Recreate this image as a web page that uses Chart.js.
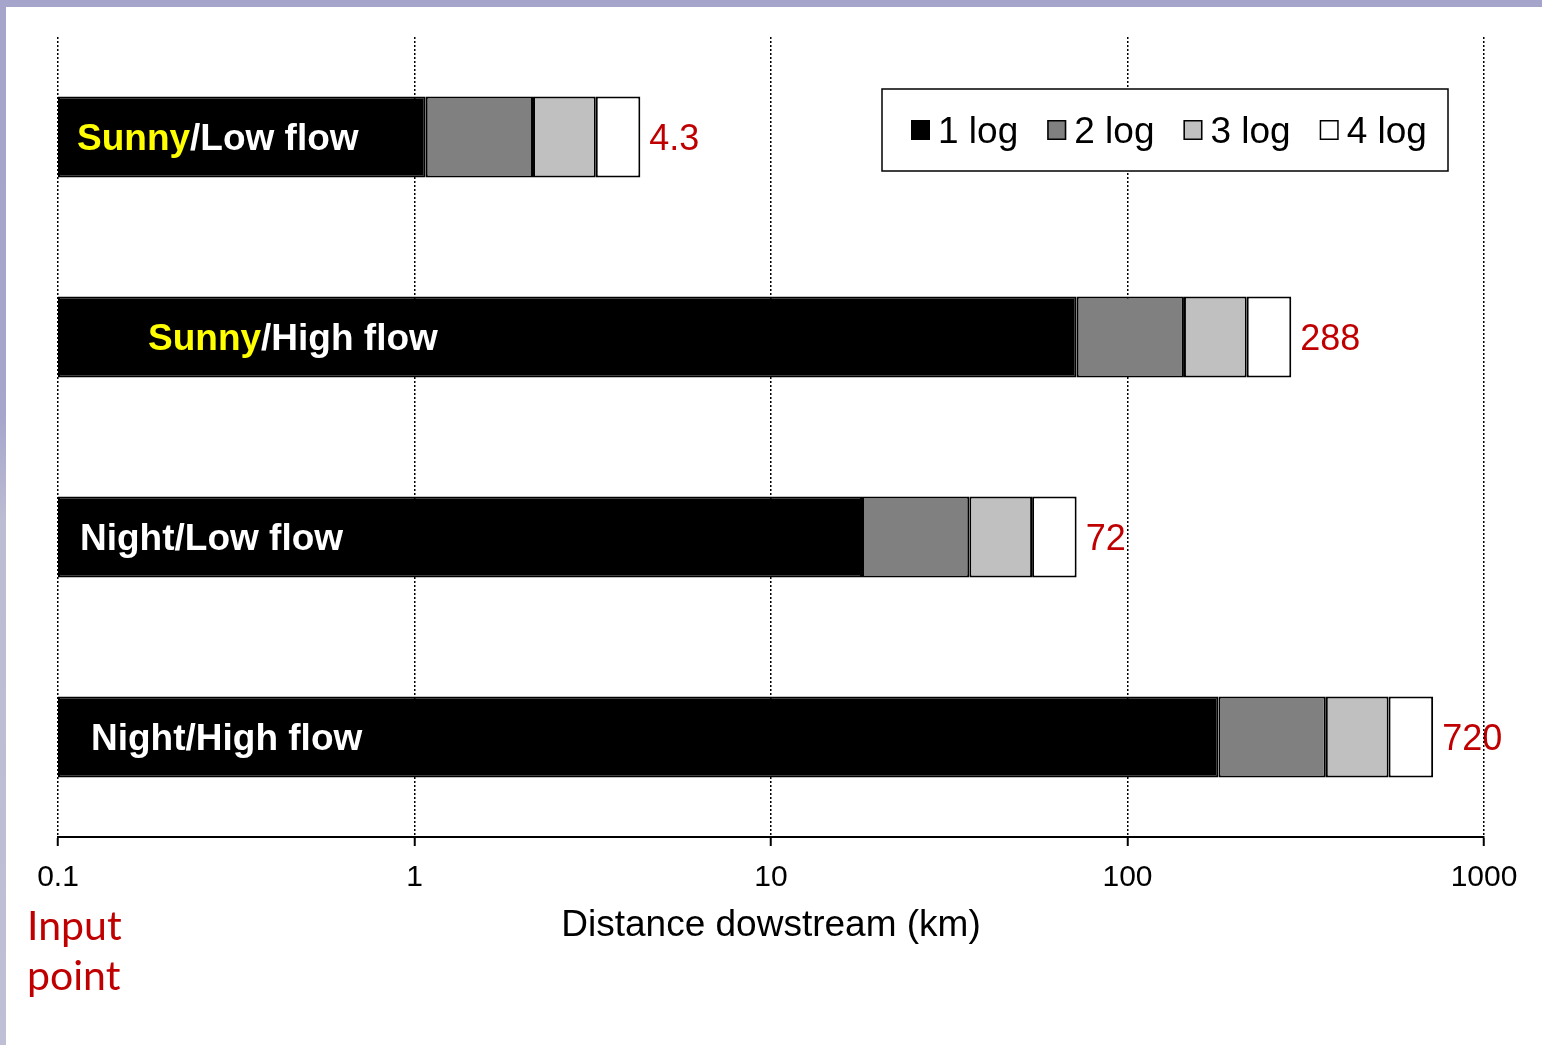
<!DOCTYPE html>
<html>
<head>
<meta charset="utf-8">
<title>Distance downstream</title>
<script src="https://cdn.jsdelivr.net/npm/chart.js@4/dist/chart.umd.min.js"></script>
<style>
  html, body { margin: 0; padding: 0; background: #ffffff; width: 1542px; height: 1045px; overflow: hidden; }
  #wrap { position: relative; width: 1542px; height: 1045px; }
  #wrap canvas { position: absolute; left: 0; top: 0; }
  .strip-top { position: absolute; left: 0; top: 0; width: 1542px; height: 7px; background: #a5a5cb; }
  .strip-left { position: absolute; left: 0; top: 0; width: 6px; height: 1045px;
    background: linear-gradient(#a5a5cb 0%, #a6a6cc 40%, #bcbcd3 50%, #bfbfd5 100%); }
</style>
</head>
<body>
<div id="wrap">
  <canvas id="chart" width="1542" height="1045"></canvas>
  <div class="strip-top"></div>
  <div class="strip-left"></div>
</div>
<script>
// Scenarios (one bar each)
const categories = ['Sunny/Low flow', 'Sunny/High flow', 'Night/Low flow', 'Night/High flow'];
const highlightWord = 'Sunny';

// Distance downstream (km) reached at each log-reduction level
const inputPoint = [0.1, 0.1, 0.1, 0.1];
const log1 = [1.075, 72, 18, 180];
const log2 = [2.15, 144, 36, 360];
const log3 = [3.225, 216, 54, 540];
const log4 = [4.3, 288, 72, 720];

const seriesNames = ['1 log', '2 log', '3 log', '4 log'];
const seriesColors = ['#000000', '#808080', '#c0c0c0', '#ffffff'];
const xTicks = [0.1, 1, 10, 100, 1000];

const bounds = [inputPoint, log1, log2, log3, log4];
const datasets = seriesNames.map((name, i) => ({
  label: name,
  data: categories.map((_, j) => [bounds[i][j], bounds[i + 1][j]]),
  backgroundColor: seriesColors[i],
  borderColor: '#000000',
  borderWidth: 2,
  borderSkipped: false
}));

const FONT = "'Liberation Sans', Arial, Helvetica, sans-serif";

// Total distance printed in red to the right of each bar (sits under the grid)
const valueLabels = {
  id: 'valueLabels',
  beforeDraw(chart) {
    const ctx = chart.ctx;
    const meta = chart.getDatasetMeta(chart.data.datasets.length - 1);
    ctx.save();
    ctx.font = '36px ' + FONT;
    ctx.fillStyle = '#c00000';
    ctx.textAlign = 'left';
    ctx.textBaseline = 'middle';
    meta.data.forEach((bar, j) => {
      ctx.fillText(String(log4[j]), bar.x + 9, bar.y + 3);
    });
    ctx.restore();
  }
};

// Scenario names written inside the black segment
const categoryLabels = {
  id: 'categoryLabels',
  afterDatasetsDraw(chart, args, opts) {
    const ctx = chart.ctx;
    const meta = chart.getDatasetMeta(0);
    ctx.save();
    ctx.font = 'bold 37px ' + FONT;
    ctx.textBaseline = 'middle';
    ctx.textAlign = 'left';
    meta.data.forEach((bar, j) => {
      const label = categories[j];
      let x = chart.chartArea.left + opts.offsets[j];
      const y = bar.y + 3;
      const cut = label.indexOf('/');
      const head = label.slice(0, cut);
      const tail = label.slice(cut);
      ctx.fillStyle = head === highlightWord ? '#ffff00' : '#ffffff';
      ctx.fillText(head, x, y);
      x += ctx.measureText(head).width;
      ctx.fillStyle = '#ffffff';
      ctx.fillText(tail, x, y);
    });
    ctx.restore();
  }
};

// Boxed legend in the upper right of the plot
const boxedLegend = {
  id: 'boxedLegend',
  afterDraw(chart) {
    const ctx = chart.ctx;
    const area = chart.chartArea;
    const right = area.right - 36;
    const left = right - 566;
    const top = area.top + 52;
    const height = 82;
    const cy = top + height / 2;
    ctx.save();
    ctx.fillStyle = '#ffffff';
    ctx.fillRect(left, top, right - left, height);
    ctx.lineWidth = 1.5;
    ctx.strokeStyle = '#000000';
    ctx.strokeRect(left, top, right - left, height);
    ctx.font = '37px ' + FONT;
    ctx.textBaseline = 'middle';
    ctx.textAlign = 'left';
    let x = left + 29;
    chart.data.datasets.forEach(ds => {
      ctx.fillStyle = ds.backgroundColor;
      ctx.fillRect(x, cy - 10, 19, 20);
      ctx.lineWidth = 1.5;
      ctx.strokeStyle = '#000000';
      ctx.strokeRect(x + 0.75, cy - 9.25, 17.5, 18.5);
      x += 19 + 8;
      ctx.fillStyle = '#000000';
      ctx.fillText(ds.label, x, cy + 3);
      x += ctx.measureText(ds.label).width + 29;
    });
    ctx.restore();
  }
};

// Marker text for the origin of the axis
const inputNote = {
  id: 'inputNote',
  afterDraw(chart) {
    const ctx = chart.ctx;
    ctx.save();
    ctx.font = "41px Lato, 'Noto Sans', sans-serif";
    ctx.fillStyle = '#c00000';
    ctx.textBaseline = 'alphabetic';
    ctx.textAlign = 'left';
    ctx.fillText('Input', 27, 940);
    ctx.fillText('point', 27, 990);
    ctx.restore();
  }
};

new Chart(document.getElementById('chart'), {
  type: 'bar',
  data: { labels: categories, datasets },
  plugins: [valueLabels, categoryLabels, boxedLegend, inputNote],
  options: {
    indexAxis: 'y',
    responsive: false,
    animation: false,
    devicePixelRatio: 1,
    layout: { padding: { left: 58, right: 58, top: 37, bottom: 0 } },
    datasets: { bar: { grouped: false, categoryPercentage: 1, barPercentage: 0.405 } },
    scales: {
      y: { type: 'category', display: false, offset: true },
      x: {
        type: 'logarithmic',
        min: 0.1,
        max: 1000,
        afterBuildTicks: scale => { scale.ticks = xTicks.map(v => ({ value: v })); },
        afterFit: scale => { scale.height = 208; },
        ticks: {
          color: '#000000',
          font: { family: FONT, size: 30 },
          padding: 14,
          autoSkip: false,
          maxRotation: 0,
          callback: v => String(v)
        },
        grid: {
          color: '#000000',
          lineWidth: 1.5,
          tickLength: 9,
          tickColor: '#000000',
          tickWidth: 2,
          tickBorderDash: []
        },
        border: { display: true, color: '#000000', width: 2, dash: [2, 2] },
        title: {
          display: true,
          text: 'Distance dowstream (km)',
          color: '#000000',
          font: { family: FONT, size: 37 },
          padding: { top: 0, bottom: 97 }
        }
      }
    },
    plugins: {
      legend: { display: false },
      tooltip: { enabled: false },
      categoryLabels: { offsets: [19, 90, 22, 33] }
    }
  }
});
</script>
</body>
</html>
